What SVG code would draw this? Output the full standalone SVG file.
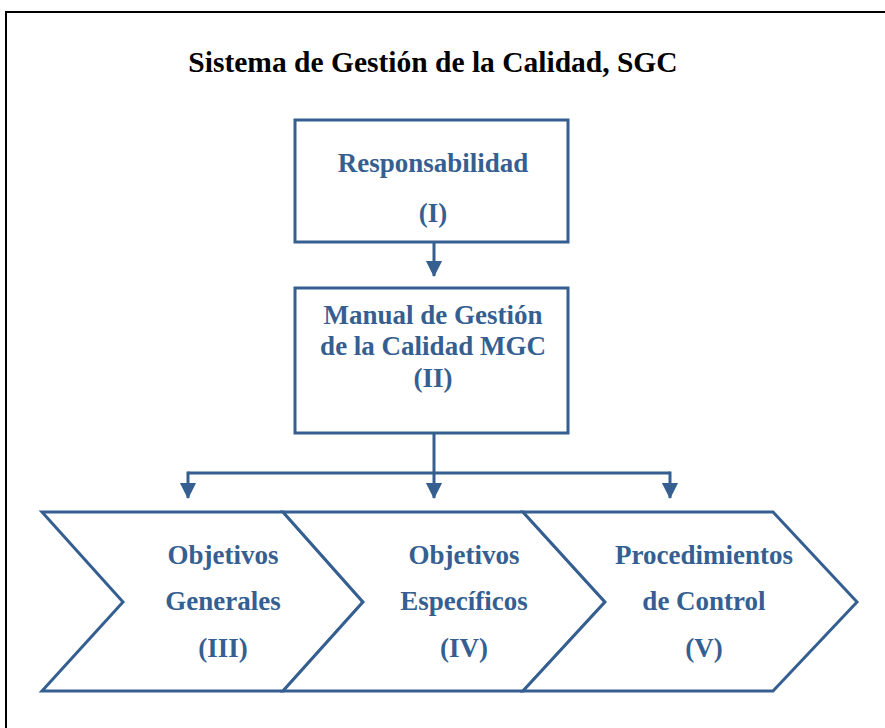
<svg xmlns="http://www.w3.org/2000/svg" width="885" height="728" viewBox="0 0 885 728">
<style>
.title{font-family:"Liberation Serif","Times New Roman",serif;font-weight:bold;font-size:29.5px;fill:#000;text-anchor:middle}
.lbl{font-family:"Liberation Serif","Times New Roman",serif;font-weight:bold;font-size:27px;fill:#365F91;text-anchor:middle}
.shape{fill:#fff;stroke:#365F91;stroke-width:3}
.conn{fill:none;stroke:#365F91;stroke-width:3}
</style>
<defs>
<marker id="ah" markerWidth="6" markerHeight="6" refX="5" refY="3" orient="auto" markerUnits="strokeWidth">
<path d="M0,0.3 L5.3,3 L0,5.7 Z" fill="#365F91"/>
</marker>
</defs>
<rect x="0" y="0" width="885" height="728" fill="#fff"/>
<path d="M6,728 V12 H885" fill="none" stroke="#000" stroke-width="2"/>
<text class="title" x="433" y="72">Sistema de Gestión de la Calidad, SGC</text>
<g id="connectors">
<path class="conn" d="M434,242 V276" marker-end="url(#ah)"/>
<path class="conn" d="M434,433 V498" marker-end="url(#ah)"/>
<path class="conn" d="M188,473 H670"/>
<path class="conn" d="M188,471.5 V498" marker-end="url(#ah)"/>
<path class="conn" d="M670,471.5 V498" marker-end="url(#ah)"/>
</g>
<g id="n1">
<rect class="shape" x="295" y="120" width="273" height="122"/>
<text class="lbl" x="433" y="172">Responsabilidad</text>
<text class="lbl" x="433" y="222">(I)</text>
</g>
<g id="n2">
<rect class="shape" x="295" y="288" width="273" height="145"/>
<text class="lbl" x="433" y="324">Manual de Gestión</text>
<text class="lbl" x="433" y="355">de la Calidad MGC</text>
<text class="lbl" x="433" y="387">(II)</text>
</g>
<g id="n3">
<polygon class="shape" points="42,512 283,512 363,602 283,691 42,691 123,602"/>
<text class="lbl" x="223" y="564">Objetivos</text>
<text class="lbl" x="223" y="610">Generales</text>
<text class="lbl" x="223" y="657">(III)</text>
</g>
<g id="n4">
<polygon class="shape" points="283,512 523,512 605,602 523,691 283,691 363,602"/>
<text class="lbl" x="464" y="564">Objetivos</text>
<text class="lbl" x="464" y="610">Específicos</text>
<text class="lbl" x="464" y="657">(IV)</text>
</g>
<g id="n5">
<polygon class="shape" points="523,512 773,512 857,602 773,691 523,691 605,602"/>
<text class="lbl" x="704" y="564">Procedimientos</text>
<text class="lbl" x="704" y="610">de Control</text>
<text class="lbl" x="704" y="657">(V)</text>
</g>
</svg>
